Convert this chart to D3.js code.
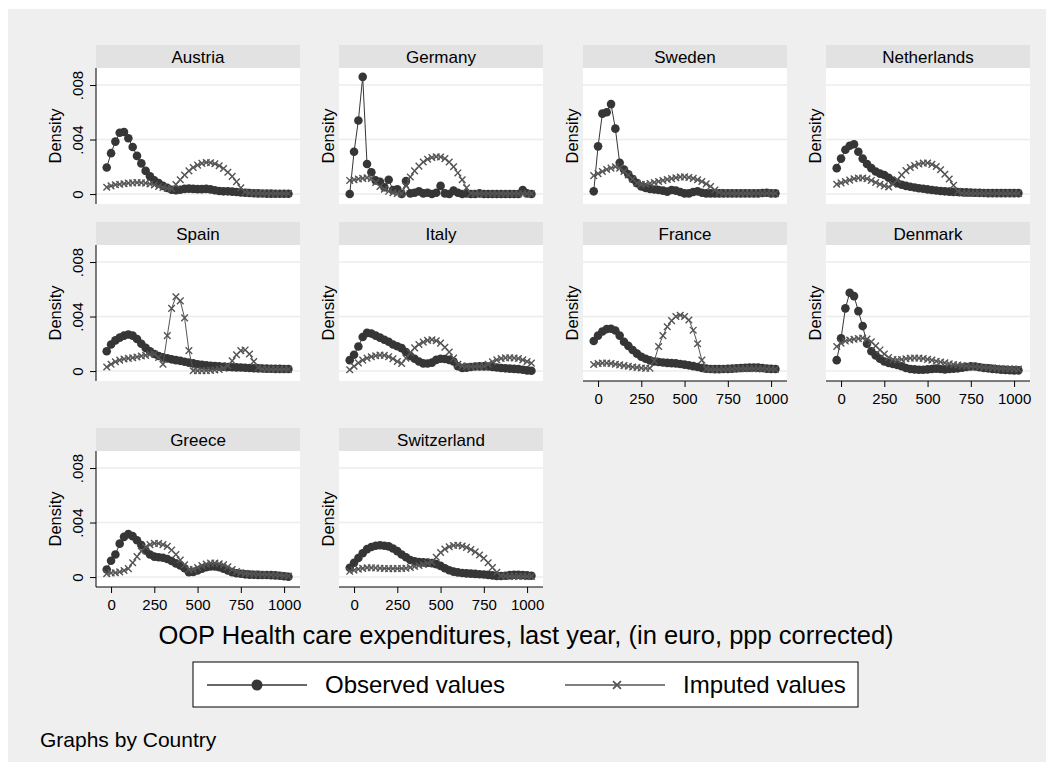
<!DOCTYPE html>
<html>
<head>
<meta charset="utf-8">
<script src="https://cdn.jsdelivr.net/npm/d3@7"></script>
<style>
  body { margin: 0; background: #ffffff; }
  svg text { font-family: "Liberation Sans", Arial, sans-serif; fill: #000; }
</style>
</head>
<body>
<div id="chart"></div>
<script>
// Evaluation points of the kernel densities (euro)
const xGrid = [-25, 0, 25, 50, 75, 100, 125, 150, 175, 200, 225, 250, 275, 300, 325, 350,
  375, 400, 425, 450, 475, 500, 525, 550, 575, 600, 625, 650, 675, 700, 725, 750, 775,
  800, 825, 850, 875, 900, 925, 950, 975, 1000, 1025];

const countries = ['Austria', 'Germany', 'Sweden', 'Netherlands', 'Spain', 'Italy',
  'France', 'Denmark', 'Greece', 'Switzerland'];

const xTicks = [0, 250, 500, 750, 1000];
const yTicks = [0, 0.004, 0.008];
const yTickLabels = ['0', '.004', '.008'];
const legendLabels = ['Observed values', 'Imputed values'];

// Densities, in thousandths (x 0.001)
const obsAustria = [1.95, 3.0, 3.85, 4.5, 4.55, 4.1, 3.45, 2.8, 2.25, 1.7,
  1.3, 1.0, 0.8, 0.6, 0.45, 0.32, 0.28, 0.32, 0.38, 0.4,
  0.38, 0.36, 0.36, 0.38, 0.34, 0.28, 0.22, 0.2, 0.2, 0.18,
  0.15, 0.12, 0.1, 0.08, 0.06, 0.05, 0.04, 0.03, 0.03, 0.02,
  0.02, 0.02, 0.02];
const impAustria = [0.5, 0.6, 0.68, 0.72, 0.76, 0.8, 0.82, 0.84, 0.83, 0.8,
  0.74, 0.66, 0.56, 0.48, 0.42, 0.4, 0.7, 1.05, 1.4, 1.7,
  1.95, 2.12, 2.25, 2.32, 2.3, 2.22, 2.08, 1.88, 1.6, 1.3,
  0.9, 0.45, 0.15, 0.08, 0.06, 0.05, 0.05, 0.04, 0.04, 0.04,
  0.04, 0.04, 0.04];

const obsGermany = [0, 3.1, 5.4, 8.6, 2.2, 1.6, 1.0, 0.9, 0.5, 1.05,
  0.3, 0.35, 0, 0.95, 0.05, 0.1, 0.2, 0.05, 0.1, 0,
  0.1, 0.6, 0.05, 0, 0.25, 0.1, 0, 0.05, 0, 0,
  0.05, 0, 0, 0, 0, 0, 0, 0, 0, 0,
  0.3, 0.05, 0];
const impGermany = [1.0, 1.05, 1.1, 1.15, 1.2, 1.15, 0.85, 0.55, 0.35, 0.2,
  0.1, 0.05, 0.02, 0.6, 1.25, 1.7, 2.05, 2.35, 2.55, 2.68,
  2.74, 2.72, 2.6, 2.35, 2.0, 1.55, 1.05, 0.45, 0.05, 0.02,
  0.02, 0.02, 0.02, 0.02, 0.02, 0.02, 0.02, 0.02, 0.02, 0.02,
  0.02, 0.02, 0.02];

const obsSweden = [0.2, 3.5, 5.9, 6.0, 6.6, 4.8, 2.3, 1.8, 1.45, 1.1,
  0.8, 0.55, 0.45, 0.38, 0.33, 0.3, 0.25, 0.18, 0.3, 0.25,
  0.15, 0.05, 0.05, 0.15, 0.2, 0.1, 0.05, 0.05, 0.05, 0.05,
  0.05, 0.05, 0.05, 0.05, 0.05, 0.05, 0.05, 0.05, 0.05, 0.08,
  0.1, 0.05, 0.05];
const impSweden = [1.35, 1.5, 1.65, 1.8, 1.9, 2.0, 1.9, 1.65, 1.4, 1.1,
  0.8, 0.7, 0.72, 0.78, 0.85, 0.92, 1.0, 1.07, 1.13, 1.2,
  1.25, 1.26, 1.22, 1.15, 1.05, 0.92, 0.75, 0.55, 0.3, 0.12,
  0.05, 0.05, 0.05, 0.05, 0.05, 0.05, 0.05, 0.05, 0.05, 0.05,
  0.05, 0.05, 0.05];

const obsNetherlands = [1.9, 2.6, 3.25, 3.55, 3.65, 3.1, 2.6, 2.2, 1.9, 1.65,
  1.5, 1.4, 1.2, 0.98, 0.8, 0.68, 0.6, 0.54, 0.48, 0.43,
  0.39, 0.34, 0.3, 0.26, 0.22, 0.2, 0.18, 0.16, 0.15, 0.13,
  0.12, 0.11, 0.1, 0.09, 0.08, 0.07, 0.07, 0.07, 0.07, 0.07,
  0.07, 0.07, 0.07];
const impNetherlands = [0.72, 0.82, 0.92, 1.02, 1.12, 1.18, 1.18, 1.12, 1.0, 0.85,
  0.72, 0.6, 0.52, 0.72, 1.05, 1.4, 1.72, 1.95, 2.1, 2.2,
  2.27, 2.28, 2.18, 2.02, 1.78, 1.45, 1.1, 0.65, 0.2, 0.06,
  0.05, 0.05, 0.05, 0.05, 0.05, 0.05, 0.05, 0.05, 0.05, 0.05,
  0.05, 0.05, 0.05];

const obsSpain = [1.45, 1.95, 2.25, 2.45, 2.6, 2.68, 2.6, 2.35, 2.0, 1.7,
  1.45, 1.25, 1.1, 1.0, 0.93, 0.86, 0.8, 0.75, 0.68, 0.62,
  0.56, 0.5, 0.46, 0.42, 0.39, 0.36, 0.34, 0.32, 0.3, 0.28,
  0.27, 0.26, 0.24, 0.22, 0.21, 0.2, 0.19, 0.18, 0.17, 0.16,
  0.16, 0.15, 0.15];
const impSpain = [0.3, 0.5, 0.68, 0.8, 0.88, 0.93, 0.98, 1.03, 1.1, 1.15,
  1.22, 1.25, 1.0, 0.5, 2.6, 4.6, 5.45, 5.15, 3.9, 1.5,
  0.02, 0.02, 0.02, 0.03, 0.05, 0.08, 0.12, 0.2, 0.4, 0.75,
  1.2, 1.5, 1.55, 1.25, 0.7, 0.25, 0.15, 0.14, 0.13, 0.13,
  0.12, 0.12, 0.12];

const obsItaly = [0.8, 1.2, 1.8, 2.5, 2.8, 2.75, 2.6, 2.45, 2.3, 2.15,
  1.95, 1.82, 1.68, 1.4, 1.1, 0.9, 0.7, 0.56, 0.55, 0.62,
  0.82, 0.9, 0.88, 0.82, 0.7, 0.35, 0.22, 0.25, 0.3, 0.33,
  0.34, 0.34, 0.33, 0.3, 0.26, 0.22, 0.2, 0.18, 0.16, 0.14,
  0.1, 0.05, 0.02];
const impItaly = [0.1, 0.35, 0.6, 0.8, 0.95, 1.05, 1.12, 1.17, 1.15, 1.05,
  0.9, 0.7, 0.55, 0.95, 1.35, 1.7, 1.95, 2.12, 2.25, 2.3,
  2.22, 2.05, 1.75, 1.4, 0.95, 0.5, 0.38, 0.34, 0.33, 0.33,
  0.34, 0.36, 0.5, 0.68, 0.82, 0.92, 0.97, 0.98, 0.96, 0.92,
  0.82, 0.7, 0.58];

const obsFrance = [2.2, 2.6, 2.9, 3.08, 3.1, 2.98, 2.6, 2.15, 1.85, 1.55,
  1.28, 1.05, 0.9, 0.78, 0.7, 0.66, 0.63, 0.6, 0.58, 0.56,
  0.52, 0.47, 0.42, 0.36, 0.3, 0.22, 0.18, 0.15, 0.14, 0.14,
  0.15, 0.16, 0.18, 0.2, 0.22, 0.24, 0.25, 0.26, 0.25, 0.22,
  0.18, 0.16, 0.15];
const impFrance = [0.48, 0.55, 0.58, 0.58, 0.55, 0.5, 0.45, 0.4, 0.35, 0.3,
  0.26, 0.22, 0.2, 0.2, 0.75, 1.8, 2.6, 3.25, 3.7, 4.0,
  4.1, 4.0, 3.75, 3.0, 2.0, 0.8, 0.15, 0.12, 0.12, 0.12,
  0.13, 0.14, 0.15, 0.16, 0.17, 0.18, 0.18, 0.18, 0.17, 0.16,
  0.15, 0.14, 0.13];

const obsDenmark = [0.8, 2.4, 4.6, 5.75, 5.5, 4.4, 3.3, 2.0, 1.45, 1.15,
  0.9, 0.7, 0.6, 0.52, 0.45, 0.35, 0.22, 0.15, 0.12, 0.1,
  0.1, 0.12, 0.15, 0.18, 0.15, 0.12, 0.15, 0.18, 0.2, 0.25,
  0.3, 0.34, 0.33, 0.28, 0.22, 0.2, 0.16, 0.13, 0.1, 0.08,
  0.06, 0.05, 0.05];
const impDenmark = [1.8, 2.05, 2.2, 2.28, 2.33, 2.38, 2.42, 2.35, 2.15, 1.85,
  1.55, 1.25, 1.0, 0.85, 0.82, 0.85, 0.9, 0.94, 0.96, 0.95,
  0.92, 0.86, 0.8, 0.72, 0.66, 0.6, 0.54, 0.48, 0.44, 0.4,
  0.37, 0.35, 0.33, 0.3, 0.28, 0.25, 0.23, 0.21, 0.19, 0.17,
  0.16, 0.15, 0.14];

const obsGreece = [0.55, 1.2, 1.65, 2.45, 2.95, 3.15, 3.0, 2.7, 2.35, 1.95,
  1.65, 1.5, 1.45, 1.42, 1.32, 1.18, 1.0, 0.85, 0.65, 0.35,
  0.38, 0.48, 0.62, 0.72, 0.78, 0.78, 0.72, 0.62, 0.48, 0.36,
  0.28, 0.24, 0.2, 0.18, 0.17, 0.16, 0.15, 0.15, 0.14, 0.12,
  0.1, 0.06, 0.02];
const impGreece = [0.25, 0.3, 0.32, 0.38, 0.48, 0.62, 1.05, 1.5, 1.9, 2.2,
  2.38, 2.47, 2.46, 2.38, 2.25, 1.98, 1.65, 1.25, 0.9, 0.55,
  0.55, 0.7, 0.85, 0.95, 1.02, 1.02, 0.98, 0.9, 0.75, 0.55,
  0.4, 0.32, 0.27, 0.24, 0.22, 0.2, 0.19, 0.18, 0.17, 0.15,
  0.13, 0.1, 0.08];

const obsSwitzerland = [0.68, 1.05, 1.4, 1.75, 2.05, 2.2, 2.3, 2.33, 2.3, 2.25,
  2.1, 1.9, 1.65, 1.45, 1.25, 1.15, 1.1, 1.08, 1.06, 1.02,
  0.95, 0.82, 0.65, 0.5, 0.4, 0.34, 0.3, 0.27, 0.25, 0.23,
  0.21, 0.19, 0.16, 0.12, 0.08, 0.08, 0.1, 0.14, 0.17, 0.17,
  0.15, 0.12, 0.1];
const impSwitzerland = [0.42, 0.5, 0.58, 0.64, 0.68, 0.68, 0.67, 0.65, 0.63, 0.62,
  0.62, 0.62, 0.63, 0.65, 0.7, 0.78, 0.85, 0.92, 1.0, 1.1,
  1.45, 1.8, 2.05, 2.22, 2.32, 2.33, 2.28, 2.18, 2.02, 1.85,
  1.62, 1.38, 1.05, 0.7, 0.35, 0.1, 0.06, 0.05, 0.05, 0.05,
  0.05, 0.05, 0.05];

const observed = [obsAustria, obsGermany, obsSweden, obsNetherlands, obsSpain,
  obsItaly, obsFrance, obsDenmark, obsGreece, obsSwitzerland];
const imputed = [impAustria, impGermany, impSweden, impNetherlands, impSpain,
  impItaly, impFrance, impDenmark, impGreece, impSwitzerland];

const width = 1055;
const height = 771;
const colLeft = [96, 339, 583, 826];
const stripTop = [45, 222, 428];
const panelW = 204;
const stripH = 23;
const plotH = 136;
const obsColor = '#363636';
const impColor = '#555555';
const fontStack = '"Liberation Sans", Arial, sans-serif';

const svg = d3.select('#chart').append('svg')
  .attr('width', width)
  .attr('height', height);

svg.append('rect')
  .attr('x', 8)
  .attr('y', 9)
  .attr('width', 1038)
  .attr('height', 753)
  .attr('fill', '#efefef');

const crossPath = 'M-3.3,-3.3L3.3,3.3M-3.3,3.3L3.3,-3.3';

countries.forEach(function (country, i) {
  const col = i % 4;
  const row = Math.floor(i / 4);
  const left = colLeft[col];
  const top = stripTop[row] + stripH;
  const bottom = top + plotH;

  // no panel underneath -> draw the x axis here
  const hasXAxis = (i + 4) >= countries.length;

  const x = d3.scaleLinear().domain([-87, 1092]).range([left, left + panelW]);
  const y = d3.scaleLinear().domain([-0.00073, 0.00925]).range([bottom, top]);

  const g = svg.append('g').attr('class', 'panel');

  // strip header
  g.append('rect')
    .attr('x', left)
    .attr('y', stripTop[row])
    .attr('width', panelW)
    .attr('height', stripH)
    .attr('fill', '#e2e2e2');
  g.append('text')
    .attr('x', left + panelW / 2)
    .attr('y', stripTop[row] + 17.5)
    .attr('text-anchor', 'middle')
    .attr('font-size', 17)
    .text(country);

  // plot region
  g.append('rect')
    .attr('x', left)
    .attr('y', top)
    .attr('width', panelW)
    .attr('height', plotH)
    .attr('fill', '#ffffff');

  g.selectAll('line.grid')
    .data(yTicks)
    .enter().append('line')
    .attr('class', 'grid')
    .attr('x1', left)
    .attr('x2', left + panelW)
    .attr('y1', d => y(d))
    .attr('y2', d => y(d))
    .attr('stroke', '#ececec')
    .attr('stroke-width', 1.5);

  // y axis only in the first column
  if (col === 0) {
    const yAxis = d3.axisLeft(y)
      .tickValues(yTicks)
      .tickSize(6)
      .tickFormat((d, k) => yTickLabels[k]);
    const ya = g.append('g')
      .attr('transform', `translate(${left},0)`)
      .call(yAxis);
    ya.select('.domain')
      .attr('d', `M0,${top}V${bottom}`)
      .attr('stroke', '#000');
    ya.selectAll('.tick line').attr('stroke', '#000');
    ya.selectAll('.tick text')
      .attr('font-size', 15)
      .attr('font-family', fontStack)
      .attr('transform', 'rotate(-90)')
      .attr('x', 0)
      .attr('y', -13)
      .attr('dy', 0)
      .attr('text-anchor', 'middle');
  }

  const titleX = col === 0 ? left - 41 : left - 11;
  g.append('text')
    .attr('transform', `translate(${titleX},${(top + bottom) / 2}) rotate(-90)`)
    .attr('text-anchor', 'middle')
    .attr('dy', '0.35em')
    .attr('font-size', 16.5)
    .text('Density');

  if (hasXAxis) {
    const xAxis = d3.axisBottom(x)
      .tickValues(xTicks)
      .tickSize(6)
      .tickPadding(6)
      .tickFormat(d3.format('d'));
    const xa = g.append('g')
      .attr('transform', `translate(0,${bottom})`)
      .call(xAxis);
    xa.select('.domain')
      .attr('d', `M${left},0H${left + panelW}`)
      .attr('stroke', '#000');
    xa.selectAll('.tick line').attr('stroke', '#000');
    xa.selectAll('.tick text')
      .attr('font-size', 15)
      .attr('font-family', fontStack);
  }

  const line = d3.line()
    .x((d, k) => x(xGrid[k]))
    .y(d => y(d / 1000));

  // Observed values
  g.append('path')
    .datum(observed[i])
    .attr('d', line)
    .attr('fill', 'none')
    .attr('stroke', obsColor)
    .attr('stroke-width', 1);
  g.selectAll('circle.obs')
    .data(observed[i])
    .enter().append('circle')
    .attr('class', 'obs')
    .attr('cx', (d, k) => x(xGrid[k]))
    .attr('cy', d => y(d / 1000))
    .attr('r', 4.3)
    .attr('fill', obsColor);

  // Imputed values
  g.append('path')
    .datum(imputed[i])
    .attr('d', line)
    .attr('fill', 'none')
    .attr('stroke', impColor)
    .attr('stroke-width', 1);
  g.selectAll('path.imp')
    .data(imputed[i])
    .enter().append('path')
    .attr('class', 'imp')
    .attr('d', crossPath)
    .attr('transform', (d, k) => `translate(${x(xGrid[k])},${y(d / 1000)})`)
    .attr('fill', 'none')
    .attr('stroke', impColor)
    .attr('stroke-width', 1.4);
});

// Shared x title
svg.append('text')
  .attr('x', 526)
  .attr('y', 644)
  .attr('text-anchor', 'middle')
  .attr('font-size', 25.5)
  .text('OOP Health care expenditures, last year, (in euro, ppp corrected)');

// Legend
const legend = svg.append('g').attr('class', 'legend');
legend.append('rect')
  .attr('x', 193)
  .attr('y', 662)
  .attr('width', 665)
  .attr('height', 45)
  .attr('fill', '#ffffff')
  .attr('stroke', '#000')
  .attr('stroke-width', 1);

const keyX = [207, 565];
legendLabels.forEach(function (label, k) {
  const kx = keyX[k];
  legend.append('line')
    .attr('x1', kx)
    .attr('x2', kx + 100)
    .attr('y1', 685)
    .attr('y2', 685)
    .attr('stroke', k === 0 ? obsColor : impColor)
    .attr('stroke-width', 1.5);
  if (k === 0) {
    legend.append('circle')
      .attr('cx', kx + 50)
      .attr('cy', 685)
      .attr('r', 5.5)
      .attr('fill', obsColor);
  } else {
    legend.append('path')
      .attr('d', crossPath)
      .attr('transform', `translate(${kx + 52},685) scale(1.2)`)
      .attr('fill', 'none')
      .attr('stroke', impColor)
      .attr('stroke-width', 1.5);
  }
  legend.append('text')
    .attr('x', kx + 118)
    .attr('y', 693)
    .attr('font-size', 24)
    .text(label);
});

svg.append('text')
  .attr('x', 40)
  .attr('y', 747)
  .attr('font-size', 21)
  .text('Graphs by Country');
</script>
</body>
</html>
